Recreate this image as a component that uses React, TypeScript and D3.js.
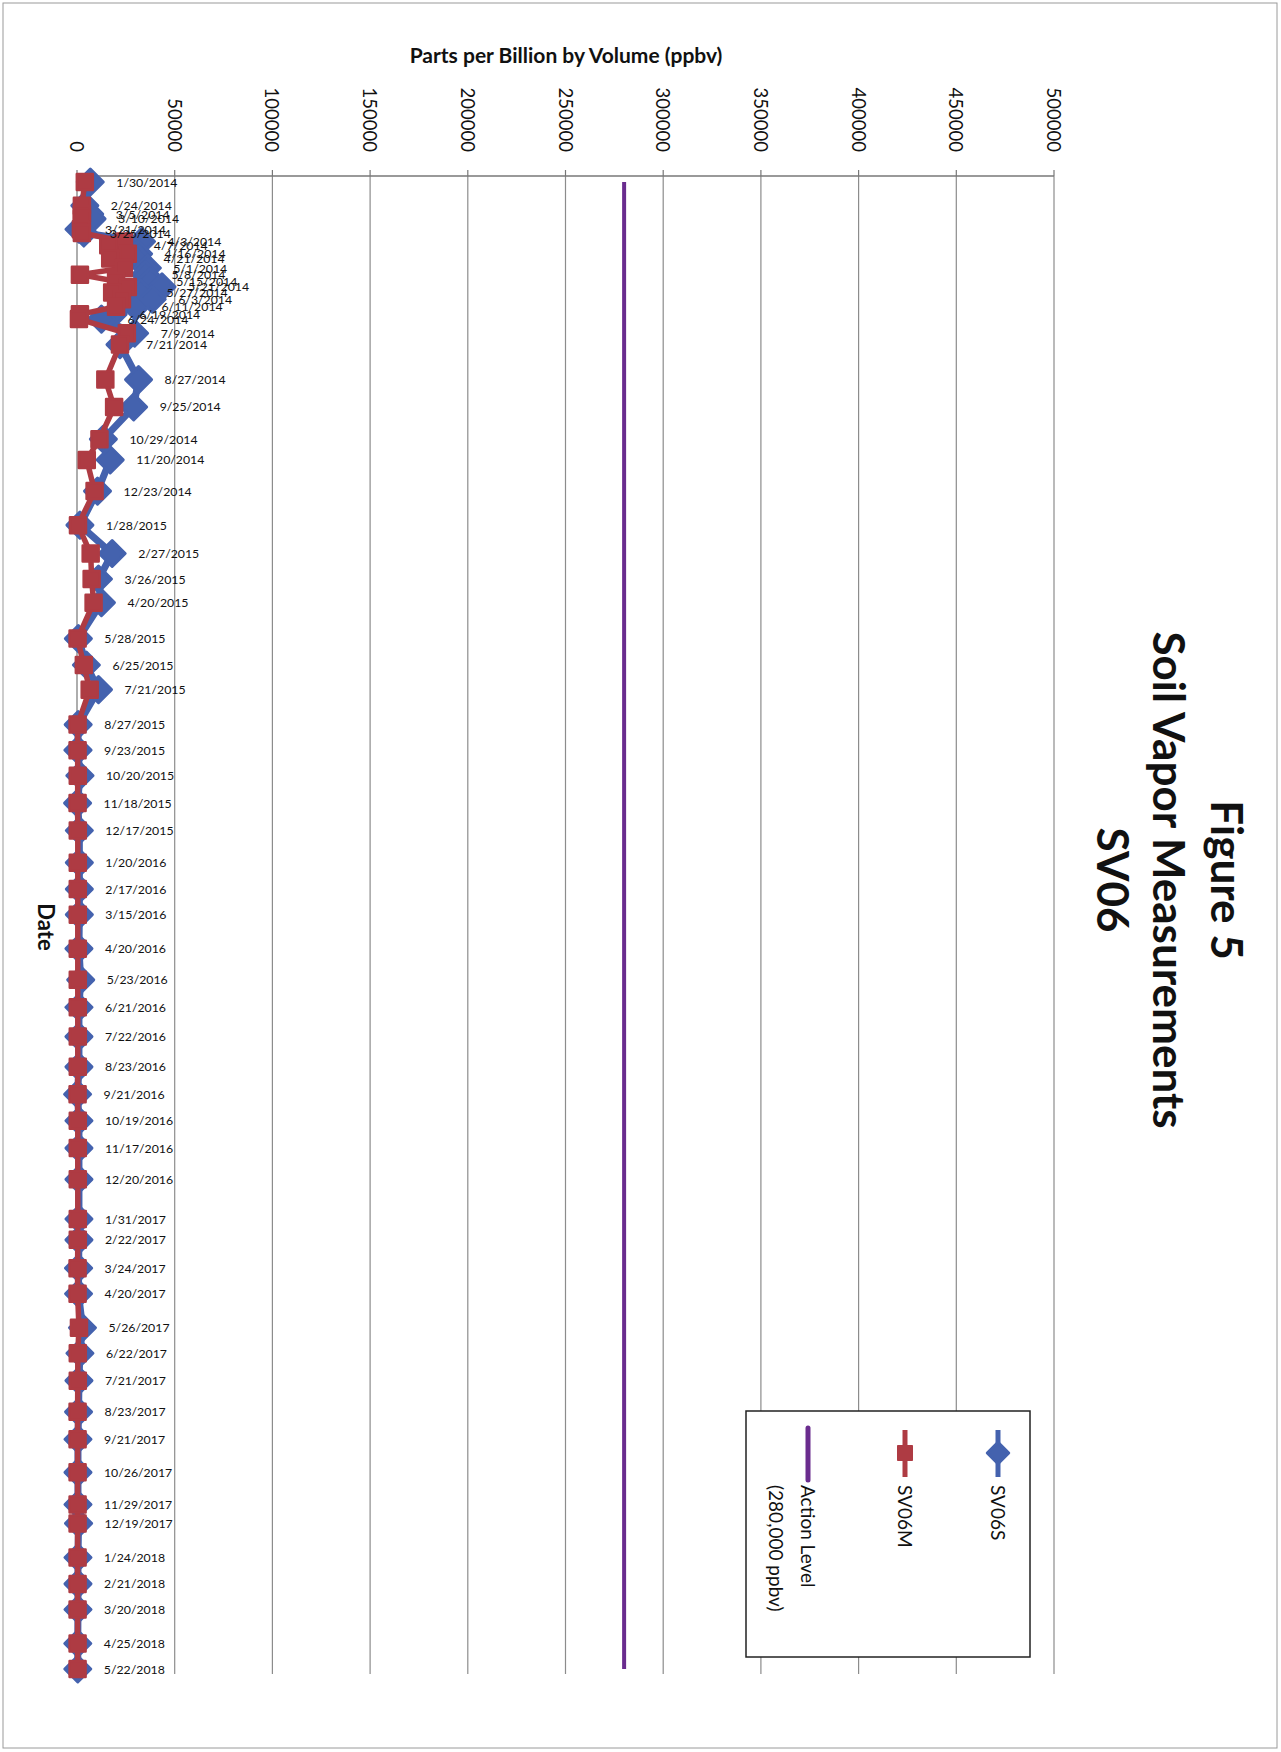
import React from 'react';
import * as d3 from 'd3';

const dates = [
  '1/30/2014', '2/24/2014', '3/5/2014', '3/10/2014', '3/21/2014', '3/25/2014', '4/3/2014', '4/7/2014',
  '4/16/2014', '4/21/2014', '5/1/2014', '5/8/2014', '5/15/2014', '5/21/2014', '5/27/2014', '6/3/2014',
  '6/11/2014', '6/19/2014', '6/24/2014', '7/9/2014', '7/21/2014', '8/27/2014', '9/25/2014', '10/29/2014',
  '11/20/2014', '12/23/2014',
  '1/28/2015', '2/27/2015', '3/26/2015', '4/20/2015', '5/28/2015', '6/25/2015', '7/21/2015', '8/27/2015',
  '9/23/2015', '10/20/2015', '11/18/2015', '12/17/2015',
  '1/20/2016', '2/17/2016', '3/15/2016', '4/20/2016', '5/23/2016', '6/21/2016', '7/22/2016', '8/23/2016',
  '9/21/2016', '10/19/2016', '11/17/2016', '12/20/2016',
  '1/31/2017', '2/22/2017', '3/24/2017', '4/20/2017', '5/26/2017', '6/22/2017', '7/21/2017', '8/23/2017',
  '9/21/2017', '10/26/2017', '11/29/2017', '12/19/2017',
  '1/24/2018', '2/21/2018', '3/20/2018', '4/25/2018', '5/22/2018',
];

const sv06s = [
  6800, 4000, 6500, 7700, 1000, 3500, 33000, 26000,
  31500, 31000, 36000, 35000, 37500, 43500, 32500, 38500,
  30000, 18500, 12500, 29500, 22000, 31500, 29000, 13500,
  17000, 10500,
  1500, 18000, 11000, 12500, 700, 4800, 11000, 600,
  500, 1500, 300, 1200,
  1200, 1200, 1200, 1000, 1900, 1000, 1000, 1000,
  300, 1000, 1000, 1000,
  1000, 1000, 800, 800, 2800, 1500, 1000, 800,
  500, 500, 500, 800,
  500, 500, 500, 400, 400,
];

const sv06m = [
  4000, 2500, 2500, 2500, 2000, 2500, 24000, 16000,
  26000, 17000, 24000, 1500, 20000, 26000, 18000, 23000,
  20000, 1500, 1000, 25500, 22000, 14500, 19000, 11500,
  5000, 9000,
  500, 7000, 7500, 8500, 300, 3500, 6500, 300,
  300, 400, 300, 400,
  400, 400, 400, 400, 400, 400, 400, 400,
  300, 400, 400, 400,
  400, 400, 300, 300, 1000, 400, 400, 300,
  300, 300, 300, 300,
  300, 300, 300, 300, 300,
];

const actionLevel = 280000;
const valueTicks = [0, 50000, 100000, 150000, 200000, 250000, 300000, 350000, 400000, 450000, 500000];
const titleLines = ['Figure 5', 'Soil Vapor Measurements', 'SV06'];
const valueAxisTitle = 'Parts per Billion by Volume (ppbv)';
const dateAxisTitle = 'Date';
const seriesNames = ['SV06S', 'SV06M'];
const actionLabelLines = ['Action Level', '(280,000 ppbv)'];

const BLUE = '#4462AE';
const RED = '#AE3B43';
const PURPLE = '#6A2C8E';
const GRID = '#8c8c8c';
const FONT = "Lato, 'Open Sans', sans-serif";

export default function App() {
  const parse = d3.timeParse('%m/%d/%Y');
  const t = dates.map((d) => parse(d) as Date);
  const x = d3.scaleLinear().domain([0, 500000]).range([77, 1054]);
  const y = d3.scaleTime().domain([t[0], t[t.length - 1]]).range([182, 1669]);
  const plotTop = 176;
  const plotBottom = 1674;

  const line = d3
    .line<number>()
    .x((v) => x(v))
    .y((_, i) => y(t[i]));

  const diamond = d3.symbol(d3.symbolSquare, 338)() as string;
  const square = d3.symbol(d3.symbolSquare, 256)() as string;
  const legDiamond = d3.symbol(d3.symbolSquare, 230)() as string;
  const legSquare = d3.symbol(d3.symbolSquare, 225)() as string;

  return (
    <svg
      width={1281}
      height={1752}
      style={{ position: 'absolute', left: 0, top: 0, background: '#fff' }}
      fontFamily={FONT}
    >
      <rect x={0} y={0} width={1281} height={1752} fill="#fff" />
      <rect x={3} y={3} width={1274} height={1745} fill="none" stroke="#9a9a9a" strokeWidth={1} />

      {valueTicks.map((v) => (
        <line key={'g' + v} x1={x(v)} x2={x(v)} y1={plotTop} y2={plotBottom} stroke={v === 0 ? '#777' : GRID} strokeWidth={1.2} />
      ))}
      <line x1={x(0)} x2={x(500000)} y1={plotTop} y2={plotTop} stroke="#777" strokeWidth={1.5} />
      {valueTicks.map((v) => (
        <line key={'tk' + v} x1={x(v)} x2={x(v)} y1={plotTop - 6} y2={plotTop} stroke="#777" strokeWidth={1.2} />
      ))}
      {valueTicks.map((v) => (
        <text
          key={'tl' + v}
          transform={`translate(${x(v)},152) rotate(90)`}
          textAnchor="end"
          dominantBaseline="central"
          fontSize={18.5}
          fill="#111"
        >
          {String(v)}
        </text>
      ))}

      <text x={566} y={54} textAnchor="middle" dominantBaseline="central" fontSize={21} fontWeight="bold" fill="#111">
        {valueAxisTitle}
      </text>
      <text transform={`translate(46,927) rotate(90)`} textAnchor="middle" dominantBaseline="central" fontSize={22} fontWeight="bold" fill="#111">
        {dateAxisTitle}
      </text>

      {titleLines.map((s, i) => (
        <text
          key={s}
          transform={`translate(${[1228, 1170, 1114][i]},880) rotate(90)`}
          textAnchor="middle"
          dominantBaseline="central"
          fontSize={44}
          fontWeight="bold"
          fill="#111"
        >
          {s}
        </text>
      ))}

      <line x1={x(actionLevel)} x2={x(actionLevel)} y1={y(t[0])} y2={y(t[t.length - 1])} stroke={PURPLE} strokeWidth={4} />

      <path d={line(sv06s) as string} fill="none" stroke={BLUE} strokeWidth={7} strokeLinejoin="round" />
      {sv06s.map((v, i) => (
        <path
          key={'b' + i}
          d={diamond}
          transform={`translate(${x(v)},${y(t[i])}) rotate(45)`}
          fill={BLUE}
          stroke={BLUE}
          strokeWidth={3}
          strokeLinejoin="round"
        />
      ))}
      <path d={line(sv06m) as string} fill="none" stroke={RED} strokeWidth={5.5} strokeLinejoin="round" />
      {sv06m.map((v, i) => (
        <path
          key={'r' + i}
          d={square}
          transform={`translate(${x(v)},${y(t[i])})`}
          fill={RED}
          stroke={RED}
          strokeWidth={2.5}
          strokeLinejoin="round"
        />
      ))}

      {sv06s.map((v, i) => (
        <text key={'dl' + i} x={x(v) + 26} y={y(t[i])} dominantBaseline="central" fontSize={12.3} fill="#111">
          {dates[i]}
        </text>
      ))}

      <rect x={746} y={1411} width={284} height={246} fill="#fff" stroke="#222" strokeWidth={1.5} />
      <line x1={998} x2={998} y1={1430} y2={1477} stroke={BLUE} strokeWidth={5} />
      <path d={legDiamond} transform="translate(998,1453) rotate(45)" fill={BLUE} stroke={BLUE} strokeWidth={3} strokeLinejoin="round" />
      <text transform="translate(998,1485) rotate(90)" dominantBaseline="central" fontSize={19} fill="#111">
        {seriesNames[0]}
      </text>
      <line x1={905} x2={905} y1={1430} y2={1477} stroke={RED} strokeWidth={5} />
      <path d={legSquare} transform="translate(905,1453)" fill={RED} stroke={RED} strokeWidth={1} />
      <text transform="translate(905,1485) rotate(90)" dominantBaseline="central" fontSize={19} fill="#111">
        {seriesNames[1]}
      </text>
      <line x1={808} x2={808} y1={1428} y2={1480} stroke={PURPLE} strokeWidth={5} strokeLinecap="round" />
      {actionLabelLines.map((s, i) => (
        <text key={s} transform={`translate(${808 - i * 32},1485) rotate(90)`} dominantBaseline="central" fontSize={19} fill="#111">
          {s}
        </text>
      ))}
    </svg>
  );
}
